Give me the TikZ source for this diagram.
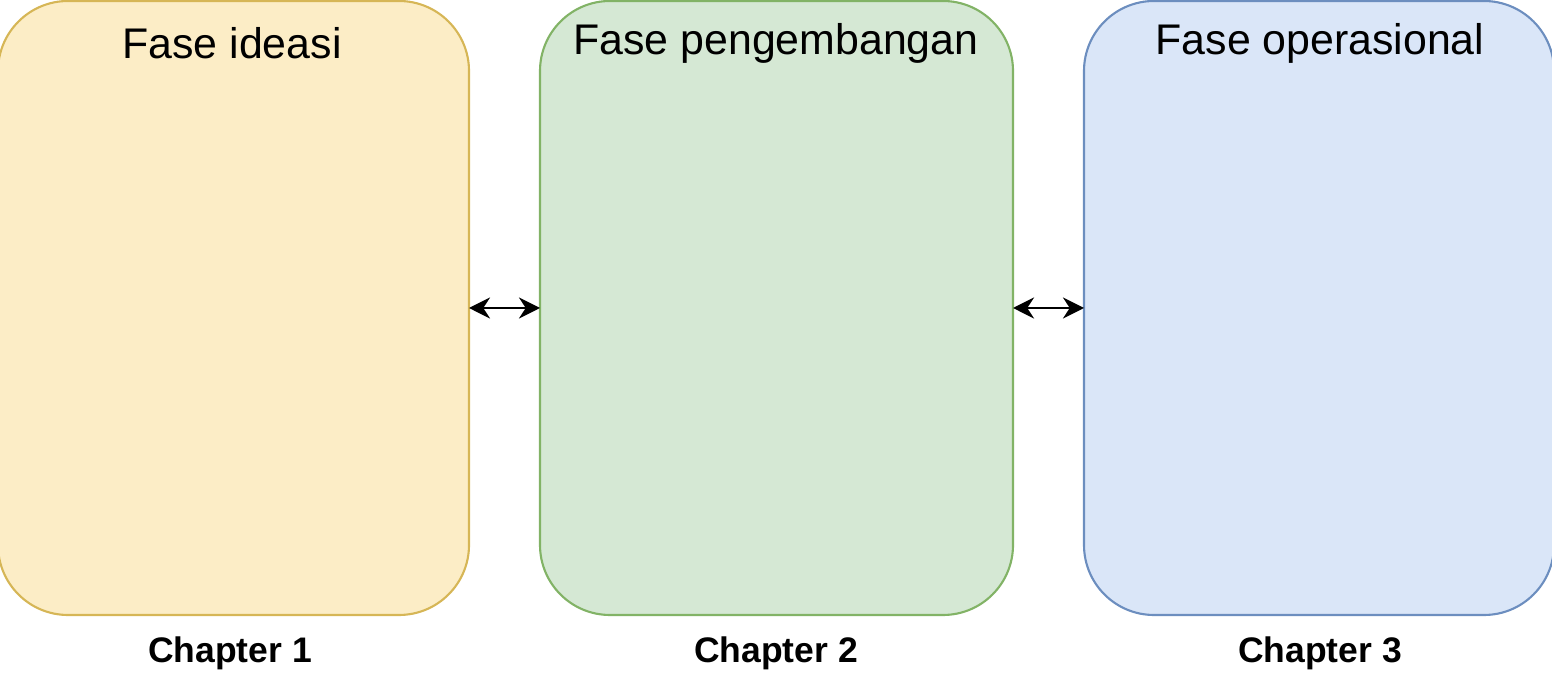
\documentclass[tikz,border=0pt]{standalone}
\usepackage{fontspec}
\setmainfont{Liberation Sans}
\usetikzlibrary{arrows.meta}
\definecolor{yfill}{HTML}{FCEDC6}\definecolor{ydraw}{HTML}{D6B656}
\definecolor{gfill}{HTML}{D5E8D4}\definecolor{gdraw}{HTML}{82B366}
\definecolor{bfill}{HTML}{DAE6F8}\definecolor{bdraw}{HTML}{6C8EBF}
\begin{document}
\begin{tikzpicture}[x=0.02cm,y=-0.02cm,
  box/.style={rounded corners=70*0.02cm, line width=1.2pt},
  title/.style={font=\fontsize{24.4}{28}\selectfont},
  chap/.style={font=\fontsize{20.2}{24}\selectfont\bfseries},
  conn/.style={line width=1.3pt,{Stealth[length=12pt,width=12pt]}-{Stealth[length=12pt,width=12pt]}}]
\useasboundingbox (0,0) rectangle (1552,688);
\draw[box,fill=yfill,draw=ydraw] (-2,1) rectangle (469,615);
\draw[box,fill=gfill,draw=gdraw] (540,1) rectangle (1013,615);
\draw[box,fill=bfill,draw=bdraw] (1084,1) rectangle (1554,615);
\coordinate (a1) at (469,308); \coordinate (b1) at (540,308);
\coordinate (a2) at (1013,308); \coordinate (b2) at (1084,308);
\draw[conn] (a1) -- (b1);
\draw[conn] (a2) -- (b2);
\node[title] (t1) at (232,43) {Fase ideasi};
\node[title] (t2) at (776,43) {Fase pengembangan};
\node[title] (t3) at (1320,43) {Fase operasional};
\node[chap] (c1) at (230,653) {Chapter 1};
\node[chap] (c2) at (776,653) {Chapter 2};
\node[chap] (c3) at (1320,653) {Chapter 3};
\end{tikzpicture}
\end{document}
